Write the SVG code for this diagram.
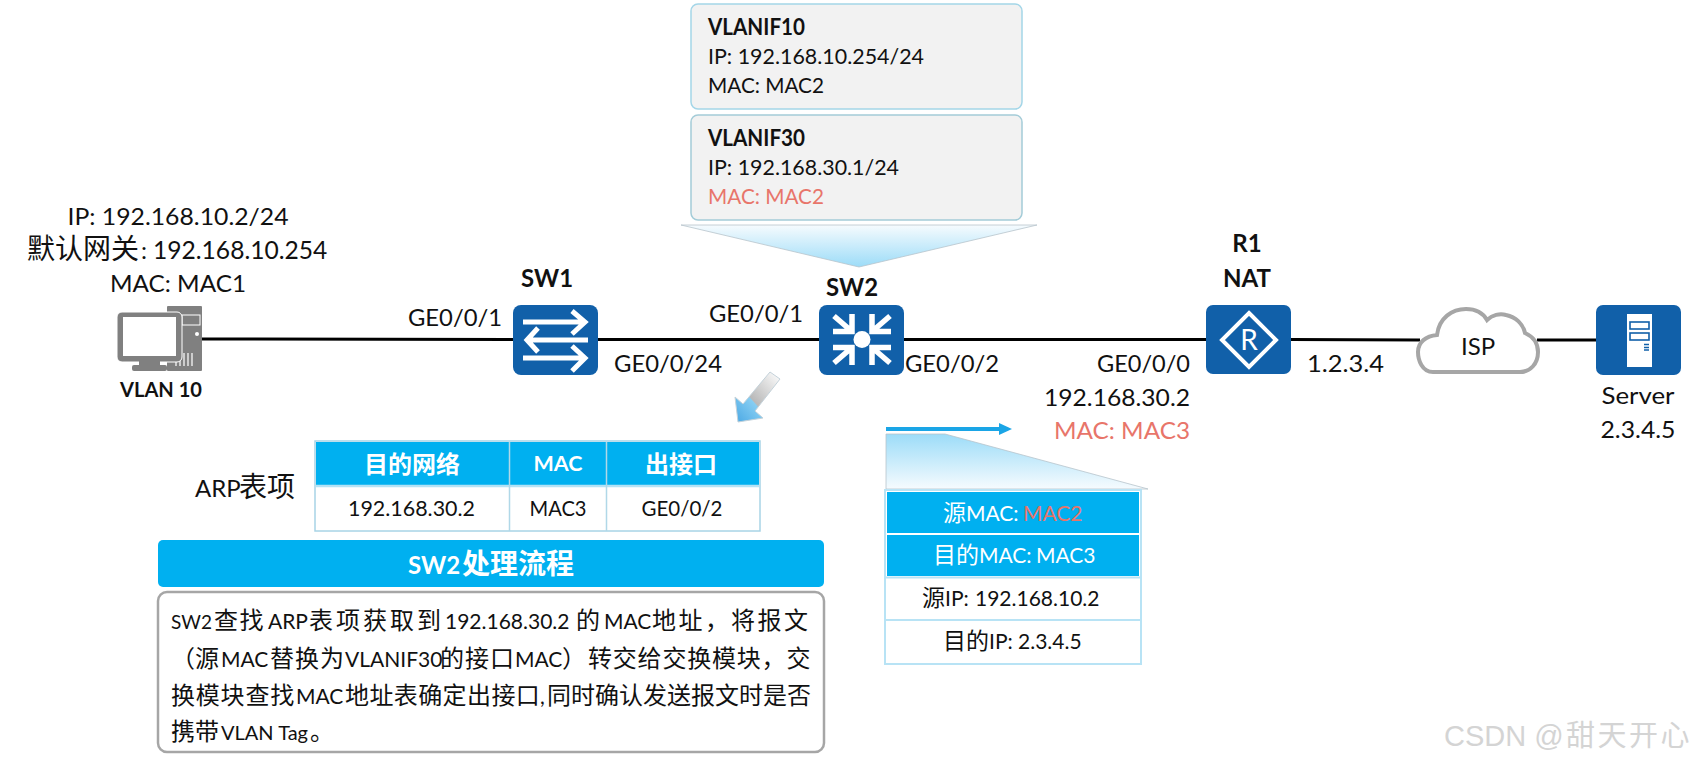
<svg xmlns="http://www.w3.org/2000/svg" width="1698" height="765" viewBox="0 0 1698 765">
<style>
text{font-family:Lato,"Noto Sans CJK SC","Noto Sans",sans-serif;font-size:24px;fill:#111}
.b{font-weight:700}
.r{fill:#e8756a}
.w{fill:#fff}
.dev{fill:#1160a9}
.ic{fill:none;stroke:#fff;stroke-width:5}
.c{text-anchor:middle}
.link{stroke:#000;stroke-width:3;fill:none}
.blue{fill:#00b0f0}
.pc{fill:#808080}
.t22{font-size:22px}
.t21{font-size:21px}
.cjk{font-size:23px}
.p{font-size:24px}
.p tspan.l{font-size:21px}
.wm{font-family:"Liberation Sans","Noto Sans CJK SC",sans-serif;font-size:29px;fill:#d4d4d4}
</style>
<defs>
<linearGradient id="g1" x1="0" y1="0" x2="0" y2="1"><stop offset="0" stop-color="#f6fbfe"/><stop offset="1" stop-color="#9cdcf8"/></linearGradient>
<linearGradient id="g2" x1="0" y1="0" x2="0" y2="1"><stop offset="0" stop-color="#9cdcf8"/><stop offset="1" stop-color="#f6fbfe"/></linearGradient>
<linearGradient id="g3" x1="1" y1="0" x2="0" y2="1"><stop offset="0" stop-color="#fff"/><stop offset="0.58" stop-color="#b9b9b9"/><stop offset="0.6" stop-color="#86cdf2"/><stop offset="1" stop-color="#4aa8e4"/></linearGradient>
</defs>

<g id="connectors">
<line class="link" x1="202" y1="339" x2="513" y2="339.5"/>
<line class="link" x1="598" y1="339.5" x2="820" y2="339.5"/>
<line class="link" x1="904" y1="339.5" x2="1206" y2="339.5"/>
<line class="link" x1="1291" y1="339.5" x2="1420" y2="340"/>
<line class="link" x1="1537" y1="340" x2="1596" y2="340"/>
</g>

<g id="pc">
<rect class="pc" x="167" y="306" width="35" height="65" rx="1"/>
<rect x="182" y="315" width="18" height="10" fill="none" stroke="#fff" stroke-width="1"/>
<circle cx="197" cy="334" r="2" fill="#fff"/>
<path d="M176 366V353M180 366V353M184 366V353M188 366V353M192 366V353" stroke="#fff" stroke-width="1.2"/>
<rect x="117" y="312" width="65" height="50" rx="5" fill="#808080" stroke="#fff" stroke-width="1"/>
<rect x="123" y="317" width="53" height="39" fill="#fff"/>
<rect class="pc" x="139" y="361" width="21" height="5"/>
<rect class="pc" x="132" y="365" width="35" height="6" rx="2"/>
<text class="c" x="178" y="225" textLength="221" lengthAdjust="spacingAndGlyphs">IP: 192.168.10.2/24</text>
<text y="259"><tspan x="27" style="font-size:28px">默认网关</tspan><tspan x="141">:</tspan><tspan x="153" style="font-size:24.6px">192.168.10.254</tspan></text>
<text class="c" x="178" y="292" textLength="136" lengthAdjust="spacingAndGlyphs">MAC: MAC1</text>
<text class="b c" x="161" y="397" style="font-size:20px" textLength="82" lengthAdjust="spacingAndGlyphs">VLAN 10</text>
</g>

<g id="sw1">
<rect class="dev" x="513" y="305" width="85" height="70" rx="8"/>
<path class="ic" d="M523 322H585M572 311L585 322L572 334M588 340H527M538 328L527 340L538 352M523 358H585M572 346L585 358L572 371"/>
<text class="b c" x="547" y="287" textLength="52" lengthAdjust="spacingAndGlyphs">SW1</text>
<text x="408" y="326" textLength="94" lengthAdjust="spacingAndGlyphs">GE0/0/1</text>
<text x="614" y="372" textLength="108" lengthAdjust="spacingAndGlyphs">GE0/0/24</text>
</g>

<g id="sw2">
<rect class="dev" x="819" y="305" width="85" height="70" rx="8"/>
<circle cx="862" cy="339.500" r="8.500" fill="#fff"/>
<path class="ic" style="stroke-width:5.500" d="M833 331.500H852V314M834 316L852 331.500M891 331.500H872V314M890 316L872 331.500M833 347.500H852V365M834 363L852 347.500M891 347.500H872V365M890 363L872 347.500"/>
<text class="b c" x="852" y="296" textLength="52" lengthAdjust="spacingAndGlyphs">SW2</text>
<text x="709" y="322" textLength="94" lengthAdjust="spacingAndGlyphs">GE0/0/1</text>
<text x="905" y="372" textLength="94" lengthAdjust="spacingAndGlyphs">GE0/0/2</text>
</g>

<g id="r1">
<rect class="dev" x="1206" y="305" width="85" height="69" rx="7"/>
<path d="M1249 313L1276 340L1249 367L1222 340Z" fill="none" stroke="#fff" stroke-width="4"/>
<text class="w c" x="1249" y="350" style="font-size:28px">R</text>
<text class="b c" x="1247" y="252">R1</text>
<text class="b c" x="1247" y="287" textLength="48" lengthAdjust="spacingAndGlyphs">NAT</text>
<text x="1097" y="372" textLength="93" lengthAdjust="spacingAndGlyphs">GE0/0/0</text>
<text x="1044" y="406" textLength="146" lengthAdjust="spacingAndGlyphs">192.168.30.2</text>
<text class="r" x="1054" y="439" textLength="136" lengthAdjust="spacingAndGlyphs">MAC: MAC3</text>
<text x="1307" y="372" textLength="77" lengthAdjust="spacingAndGlyphs">1.2.3.4</text>
</g>

<g id="isp">
<path d="M1433 372C1422 372 1418 360 1418 352C1418 342 1426 336 1437 335C1439 318 1452 309 1466 309C1475 309 1483 313 1487 320C1492 315 1500 313 1506 315C1516 317 1523 324 1525 333C1534 337 1538 344 1538 352C1538 364 1530 372 1520 372Z" fill="#fff" stroke="#a6a6a6" stroke-width="4"/>
<text class="c" x="1478" y="355">ISP</text>
</g>

<g id="server">
<rect class="dev" x="1596" y="305" width="85" height="70" rx="7"/>
<rect x="1627" y="314" width="25" height="53" fill="#fff"/>
<rect x="1630" y="322" width="19" height="7" fill="none" stroke="#1160a9" stroke-width="1.600"/>
<rect x="1630" y="333" width="19" height="7" fill="none" stroke="#1160a9" stroke-width="1.600"/>
<path d="M1644 344.500H1649M1644 347.500H1649M1644 350H1649" stroke="#1160a9" stroke-width="1.500"/>
<text class="c" x="1638" y="404" textLength="73" lengthAdjust="spacingAndGlyphs">Server</text>
<text class="c" x="1638" y="438" textLength="75" lengthAdjust="spacingAndGlyphs">2.3.4.5</text>
</g>

<g id="vlanif10">
<rect x="691" y="4" width="331" height="105" rx="7" fill="#f2f2f2" stroke="#a4d6e8" stroke-width="1.500"/>
<text class="b t22" x="708" y="35" textLength="97" lengthAdjust="spacingAndGlyphs">VLANIF10</text>
<text class="t22" x="708" y="64" textLength="216" lengthAdjust="spacingAndGlyphs">IP: 192.168.10.254/24</text>
<text class="t22" x="708" y="93" textLength="116" lengthAdjust="spacingAndGlyphs">MAC: MAC2</text>
</g>

<g id="vlanif30">
<rect x="691" y="115" width="331" height="105" rx="7" fill="#f2f2f2" stroke="#a4ccd8" stroke-width="1.500"/>
<text class="b t22" x="708" y="146" textLength="97" lengthAdjust="spacingAndGlyphs">VLANIF30</text>
<text class="t22" x="708" y="175" textLength="191" lengthAdjust="spacingAndGlyphs">IP: 192.168.30.1/24</text>
<text class="r t22" x="708" y="204" textLength="116" lengthAdjust="spacingAndGlyphs">MAC: MAC2</text>
<path d="M681 225H1037L859 267Z" fill="url(#g1)" stroke="#b8c4cc" stroke-width="0.800"/>
</g>

<g id="pointer">
<path d="M738 422L735 397L743 404L770 372L780 379L755 411L763 418Z" fill="url(#g3)" stroke="#c4d2da" stroke-width="1"/>
</g>

<g id="arp-table">
<text y="497"><tspan x="195">ARP</tspan><tspan x="239" style="font-size:28px">表项</tspan></text>
<rect x="315" y="441" width="445" height="90" fill="#fff" stroke="#a8d4e6" stroke-width="1.500"/>
<rect class="blue" x="316" y="442" width="193" height="43"/>
<rect class="blue" x="510" y="442" width="96" height="43"/>
<rect class="blue" x="607" y="442" width="152" height="43"/>
<path d="M316 486H759" stroke="#b4e2f5" stroke-width="2.500"/>
<path d="M509.500 442V531M606.500 442V531" stroke="#b0d8e8" stroke-width="1.500"/>
<text class="b w c" x="412" y="473">目的网络</text>
<text class="b w c t21" x="558" y="471" textLength="49" lengthAdjust="spacingAndGlyphs">MAC</text>
<text class="b w c" x="681" y="473">出接口</text>
<text class="c t21" x="411.500" y="516" textLength="127" lengthAdjust="spacingAndGlyphs">192.168.30.2</text>
<text class="c t21" x="558" y="516" textLength="57" lengthAdjust="spacingAndGlyphs">MAC3</text>
<text class="c t21" x="682" y="516" textLength="81" lengthAdjust="spacingAndGlyphs">GE0/0/2</text>
</g>

<g id="sw2-process">
<rect class="blue" x="158" y="540" width="666" height="47" rx="5"/>
<text class="b w" y="574"><tspan x="408">SW2</tspan><tspan x="462" style="font-size:28px">处理流程</tspan></text>
<rect x="158" y="592" width="666" height="160" rx="9" fill="#fff" stroke="#a6a6a6" stroke-width="2.500"/>
<text class="p" y="629"><tspan class="l" x="171" style="font-size:19px">SW2</tspan><tspan x="214" letter-spacing="1.500">查找</tspan><tspan class="l" x="268">ARP</tspan><tspan x="309" letter-spacing="3">表项获取到</tspan><tspan class="l" x="445">192.168.30.2</tspan><tspan x="576">的</tspan><tspan class="l" x="604">MAC</tspan><tspan x="652" letter-spacing="2.500">地址，</tspan><tspan x="731" letter-spacing="2.500">将报文</tspan></text>
<text class="p" y="667"><tspan x="171">（源</tspan><tspan class="l" x="221">MAC</tspan><tspan x="270" letter-spacing="1">替换为</tspan><tspan class="l" x="345">VLANIF30</tspan><tspan x="440" letter-spacing="1">的接口</tspan><tspan class="l" x="515">MAC</tspan><tspan x="562">）</tspan><tspan x="588" letter-spacing="0.800">转交给交换模块，交</tspan></text>
<text class="p" y="704"><tspan x="171" letter-spacing="0.800">换模块查找</tspan><tspan class="l" x="296">MAC</tspan><tspan x="345" letter-spacing="0.400">地址表确定出接口</tspan><tspan class="l" x="540">,</tspan><tspan x="547">同时确认发送报文时是否</tspan></text>
<text class="p" y="740"><tspan x="171">携带</tspan><tspan class="l" x="221" style="font-size:20px">VLAN Tag</tspan><tspan x="310">。</tspan></text>
</g>

<g id="packet">
<path d="M886 429H1000" stroke="#1aa5e6" stroke-width="4"/>
<path d="M999 423L1012 429L999 435Z" fill="#1aa5e6"/>
<path d="M886 434H945L1148 489H886Z" fill="url(#g2)" stroke="#b8c4cc" stroke-width="0.800"/>
<rect x="885" y="490" width="256" height="174" fill="#fff" stroke="#b8e3f5" stroke-width="2"/>
<rect class="blue" x="887" y="492" width="252" height="41"/>
<rect class="blue" x="887" y="535" width="252" height="41"/>
<path d="M886 577.500H1140M886 620H1140" stroke="#b8e3f5" stroke-width="2"/>
<text class="w t21" y="521"><tspan x="943" class="cjk">源</tspan><tspan x="966">MAC:</tspan><tspan x="1023" class="r">MAC2</tspan></text>
<text class="w t21" y="563"><tspan x="933" class="cjk">目的</tspan><tspan x="979">MAC:</tspan><tspan x="1036">MAC3</tspan></text>
<text class="t21" y="606"><tspan x="922" class="cjk">源</tspan><tspan x="945">IP:</tspan><tspan x="975">192.168.10.2</tspan></text>
<text class="t21" y="649"><tspan x="943" class="cjk">目的</tspan><tspan x="989">IP:</tspan><tspan x="1018">2.3.4.5</tspan></text>
</g>

<text class="wm" y="746"><tspan x="1444">CSDN @</tspan><tspan x="1566" letter-spacing="2.500">甜天开心</tspan></text>
</svg>
